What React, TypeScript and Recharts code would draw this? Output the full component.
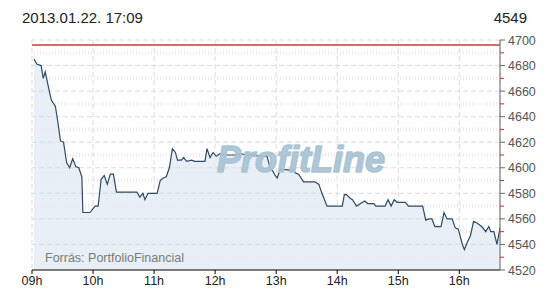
import React from 'react';
import {
  ComposedChart,
  Area,
  Line,
  XAxis,
  YAxis,
  CartesianGrid,
  ReferenceLine,
} from 'recharts';

// minutes since 09:00
const minutes = [
  2, 5, 9, 11, 13, 17, 19, 23, 25, 28, 31, 34, 37, 40, 43, 46, 49, 50, 57, 62,
  65, 68, 71, 74, 77, 80, 83, 103, 106, 109, 111, 114, 123, 126, 129, 132, 135, 138, 141, 143,
  147, 149, 152, 157, 160, 170, 172, 175, 178, 181, 185, 190, 203, 205, 211, 219, 224, 231, 234, 237,
  239, 241, 244, 257, 259, 262, 267, 278, 282, 285, 290, 305, 307, 309, 313, 315, 319, 323, 327, 330,
  336, 338, 347, 350, 353, 356, 359, 367, 370, 384, 387, 390, 393, 396, 402, 405, 408, 413, 416, 419,
  423, 425, 428, 431, 434, 437, 442, 446, 449, 451, 454, 457, 460,
];
const values = [
  4685, 4681, 4680, 4670, 4675, 4660, 4653, 4648, 4638, 4621, 4620, 4604, 4600, 4607, 4601, 4600, 4593, 4565, 4565, 4570,
  4570, 4591, 4594, 4587, 4595, 4595, 4581, 4581, 4577, 4580, 4575, 4580, 4580, 4590, 4592, 4593, 4600, 4615, 4612, 4606,
  4606, 4608, 4605, 4606, 4605, 4605, 4615, 4608, 4612, 4609, 4611, 4610, 4610, 4611, 4610, 4610, 4609, 4609, 4600, 4597,
  4594, 4592, 4599, 4598, 4596, 4595, 4589, 4589, 4587, 4580, 4570, 4570, 4579, 4579, 4576, 4575, 4570, 4572, 4574, 4572,
  4572, 4570, 4570, 4575, 4570, 4575, 4573, 4573, 4570, 4570, 4559, 4560, 4560, 4554, 4554, 4565, 4560, 4560, 4553, 4552,
  4540, 4536, 4542, 4547, 4558, 4557, 4554, 4550, 4554, 4550, 4550, 4540, 4553,
];

const hourTicks = [0, 60, 120, 180, 240, 300, 360, 420];
const hourLabels = ['09h', '10h', '11h', '12h', '13h', '14h', '15h', '16h'];
const yTicks = [4520, 4530, 4540, 4550, 4560, 4570, 4580, 4590, 4600, 4610, 4620, 4630, 4640, 4650, 4660, 4670, 4680, 4690, 4700];
const majorGrid = [4540, 4560, 4580, 4600, 4620, 4640, 4660, 4680, 4700];
const minorGrid = [4530, 4550, 4570, 4590, 4610, 4630, 4650, 4670, 4690];
const previousClose = 4696;
const titleText = '2013.01.22. 17:09';
const lastValueText = '4549';
const sourceText = 'Forrás: PortfolioFinancial';
const watermarkText = 'ProfitLine';

const data = minutes.map((m, i) => ({ t: m, v: values[i] }));

const FONT = '"Liberation Sans", Arial, sans-serif';

const YTick = (props: any) => {
  const { x, y, payload } = props;
  const v = payload.value;
  if (v % 20 !== 0) {
    return <line x1={x} x2={x + 4} y1={y} y2={y} stroke="#e02020" strokeWidth={1} />;
  }
  return (
    <g>
      <line x1={x} x2={x + 5} y1={y} y2={y} stroke="#666" strokeWidth={1} />
      <text x={x + 8} y={y} dy={4.5} fontSize={12.5} fill="#555" fontFamily={FONT}>
        {v}
      </text>
    </g>
  );
};

export default function App() {
  return (
    <div style={{ position: 'absolute', left: 0, top: 0, width: 550, height: 300, background: '#fff', fontFamily: FONT }}>
      <div style={{ position: 'absolute', left: 22, top: 9, fontSize: 15, color: '#222' }}>{titleText}</div>
      <div style={{ position: 'absolute', right: 23, top: 9, fontSize: 15, color: '#222' }}>{lastValueText}</div>
      <ComposedChart
        width={550}
        height={300}
        data={data}
        margin={{ top: 40, right: 0, bottom: 0, left: 32 }}
      >
        <CartesianGrid horizontal={false} vertical={true} stroke="#dcdcdc" strokeDasharray="5 3" />
        {minorGrid.map((g) => (
          <ReferenceLine key={'mi' + g} y={g} stroke="#ececec" strokeWidth={4} strokeDasharray="1 2" />
        ))}
        {majorGrid.map((g) => (
          <ReferenceLine key={'ma' + g} y={g} stroke="#dcdcdc" strokeDasharray="5 3" />
        ))}
        <Area
          type="linear"
          dataKey="v"
          stroke="none"
          fill="#e8eff6"
          fillOpacity={1}
          baseValue="dataMin"
          isAnimationActive={false}
        />
        <ReferenceLine y={previousClose} stroke="#db6b6b" strokeWidth={2} />
        <Line
          type="linear"
          dataKey="v"
          stroke="#2f4a62"
          strokeWidth={1.2}
          dot={false}
          isAnimationActive={false}
        />
        <XAxis
          dataKey="t"
          type="number"
          domain={[0, 460]}
          ticks={hourTicks}
          tickFormatter={(v: number) => hourLabels[hourTicks.indexOf(v)]}
          height={30}
          stroke="#000"
          tickSize={4}
          tick={{ fill: '#222', fontSize: 12.5, fontFamily: FONT }}
          allowDataOverflow
        />
        <YAxis
          orientation="right"
          type="number"
          domain={[4520, 4700]}
          ticks={yTicks}
          interval={0}
          width={50}
          stroke="#666"
          tickSize={0}
          tickMargin={0}
          tickLine={false}
          tick={<YTick />}
          allowDataOverflow
        />
      </ComposedChart>
      <svg
        width={550}
        height={300}
        style={{ position: 'absolute', left: 0, top: 0, pointerEvents: 'none' }}
      >
        <text
          x={301}
          y={172}
          textAnchor="middle"
          fontSize={36}
          fontWeight="bold"
          fontStyle="italic"
          fill="#a8c2d2"
          stroke="#a8c2d2"
          strokeWidth={1.6}
          strokeLinejoin="round"
          fillOpacity={0.92}
          strokeOpacity={0.92}
          fontFamily={FONT}
        >
          {watermarkText}
        </text>
        <text x={45} y={262} fontSize={12.5} fill="#7a7a7a" fontFamily={FONT}>
          {sourceText}
        </text>
      </svg>
    </div>
  );
}
